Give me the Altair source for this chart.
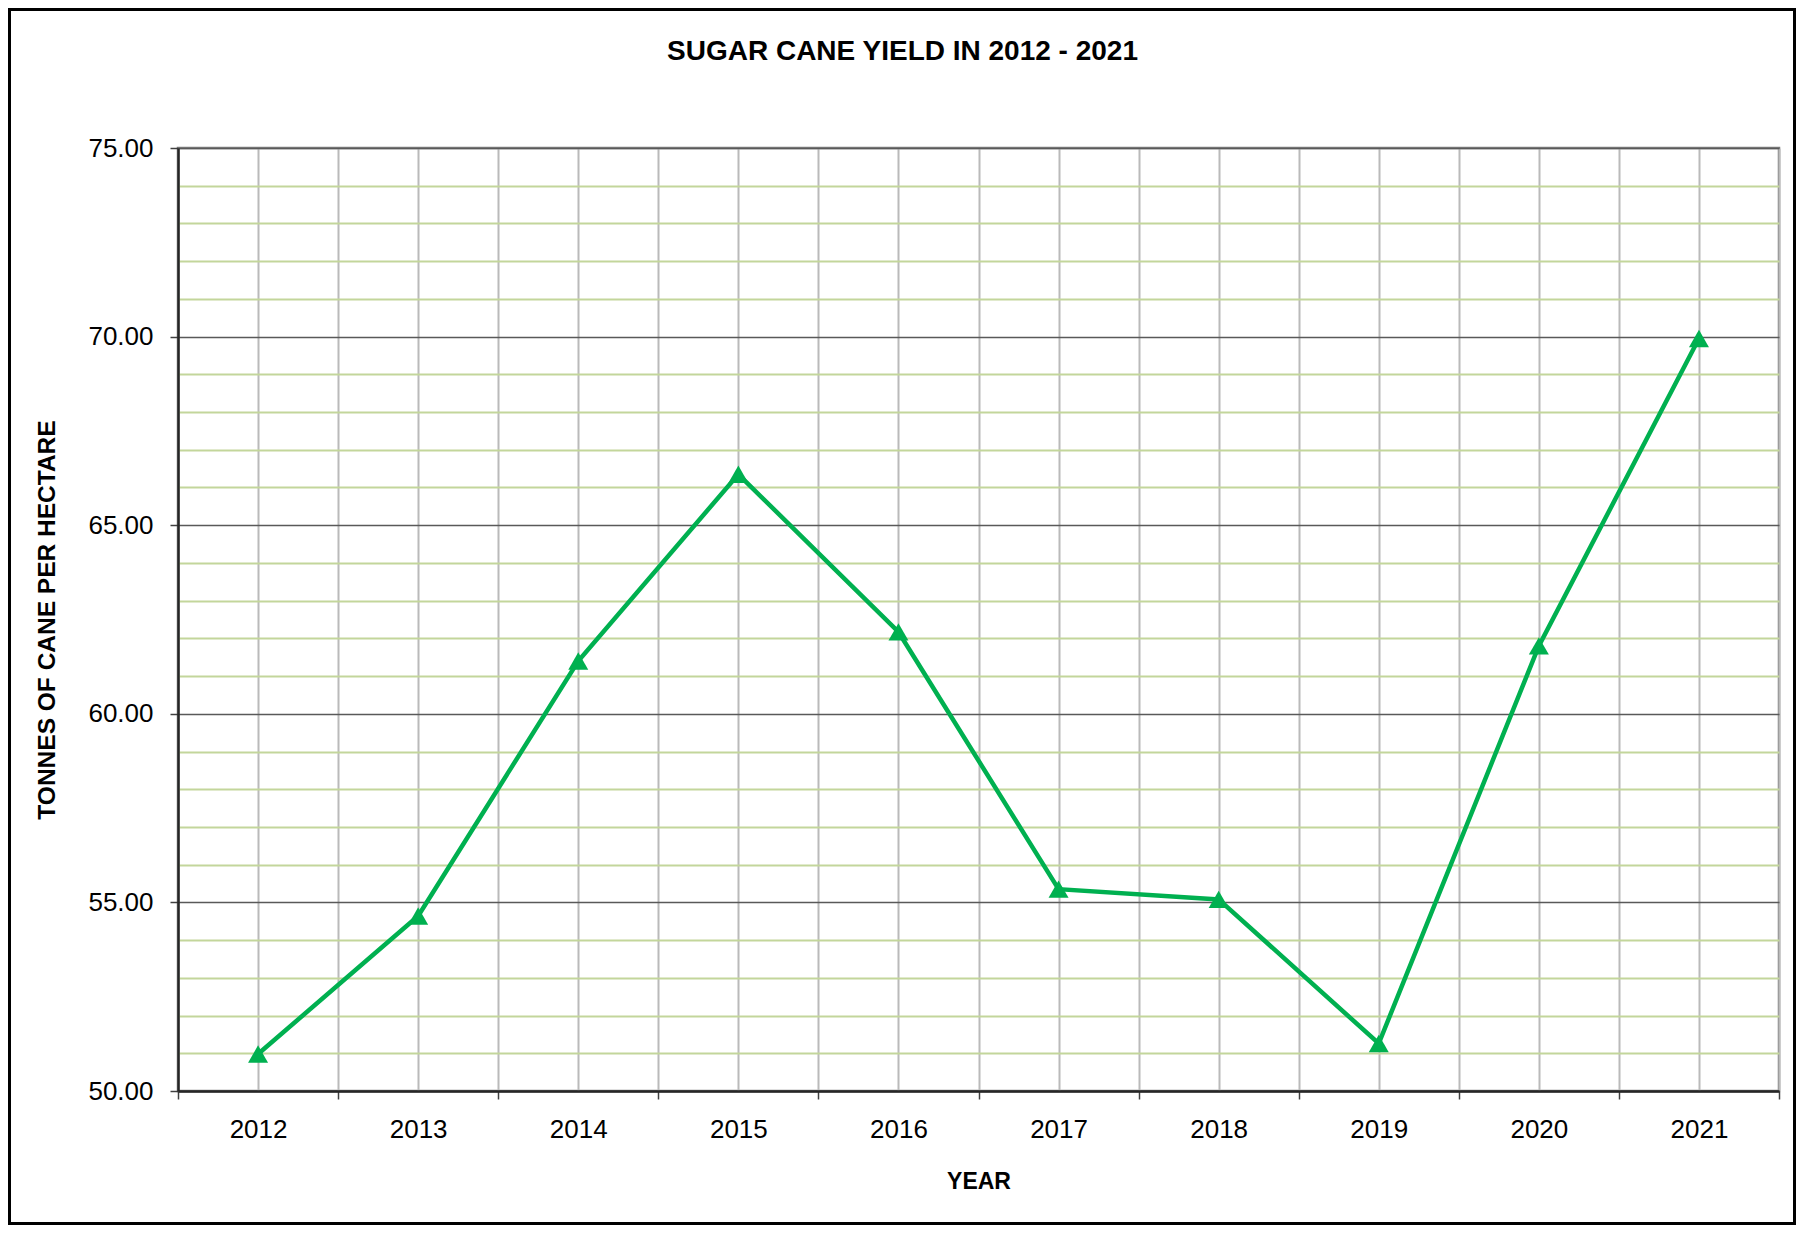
import altair as alt
import pandas as pd

# ---- data ----
years = [2012, 2013, 2014, 2015, 2016, 2017, 2018, 2019, 2020, 2021]
yields = [50.98, 54.64, 61.40, 66.35, 62.17, 55.35, 55.08, 51.26, 61.80, 69.95]
year_edges = [2011.5, 2012.5, 2013.5, 2014.5, 2015.5, 2016.5, 2017.5, 2018.5, 2019.5, 2020.5, 2021.5]
y_ticks = list(range(50, 76))

df = pd.DataFrame({"year": years, "yield": yields})
frame_df = pd.DataFrame({"k": [0]})

FONT = "Liberation Sans"
GREEN = "#00b050"
W, H = 1601, 943

x_scale = alt.Scale(domain=[2011.5, 2021.5], nice=False, zero=False)
y_scale = alt.Scale(domain=[50, 75], nice=False, zero=False)

major = "datum.value % 5 === 0"

y_enc = alt.Y(
    "yield:Q",
    scale=y_scale,
    axis=alt.Axis(
        values=y_ticks,
        labelExpr="datum.value % 5 === 0 ? format(datum.value, '.2f') : ''",
        title="TONNES OF CANE PER HECTARE",
        titleFont=FONT, titleFontSize=24.5, titleFontWeight="bold", titleColor="#000000",
        titleX=-131, titleY=H / 2, titleAngle=-90, titleBaseline="middle", titleAlign="center",
        labelFont=FONT, labelFontSize=26, labelColor="#000000", labelPadding=17,
        tickSize=8, tickWidth=1.5,
        tickColor={"condition": {"test": major, "value": "#404040"}, "value": "transparent"},
        grid=True,
        gridColor={"condition": {"test": major, "value": "#595959"}, "value": "#c3d69b"},
        gridWidth={"condition": {"test": major, "value": 1.5}, "value": 2},
        domainColor="#262626", domainWidth=2.5,
        labelOverlap=False,
    ),
)

x_centers = alt.X(
    "year:Q",
    scale=x_scale,
    axis=alt.Axis(
        values=years, format="d", orient="bottom",
        title="YEAR", titleFont=FONT, titleFontSize=23, titleFontWeight="bold", titleColor="#000000",
        titleY=90, titleBaseline="middle",
        labelFont=FONT, labelFontSize=26, labelColor="#000000", labelPadding=17,
        labelOverlap=False, labelFlush=False,
        tickSize=8, tickColor="transparent",
        grid=True, gridColor="#bababa", gridWidth=2,
        domain=False,
    ),
)

x_edges = alt.X(
    "year:Q",
    scale=x_scale,
    axis=alt.Axis(
        values=year_edges, labels=False, orient="bottom", title=None,
        tickSize=8, tickColor="#404040", tickWidth=1.5,
        grid=True, gridColor="#bababa", gridWidth=2,
        domainColor="#262626", domainWidth=2.5,
    ),
)

line = alt.Chart(df).mark_line(color=GREEN, strokeWidth=4.5).encode(x=x_centers, y=y_enc)
points = alt.Chart(df).mark_point(
    shape="triangle-up", filled=True, size=400, color=GREEN, opacity=1
).encode(x=x_edges, y=y_enc)

border = alt.Chart(frame_df).mark_rect(fill="transparent", stroke="#000000", strokeWidth=3).encode(
    x=alt.value(-168.5), x2=alt.value(W + 15.5), y=alt.value(-138.5), y2=alt.value(H + 132.5)
)

chart = (
    alt.layer(line, points, border)
    .resolve_axis(x="independent")
    .properties(
        width=W,
        height=H,
        autosize=alt.AutoSizeParams(type="none"),
        padding={"left": 170, "top": 140, "right": 17, "bottom": 134},
        title=alt.Title(
            "SUGAR CANE YIELD IN 2012 - 2021",
            font=FONT, fontSize=28, fontWeight="bold", color="#000000",
            anchor="middle", dx=-76, offset=-80, baseline="alphabetic",
        ),
        background="white",
    )
    .configure_view(stroke="#7f7f7f", strokeWidth=2.5)
)

chart.save("out.html", embed_options={"renderer": "svg", "actions": False})
